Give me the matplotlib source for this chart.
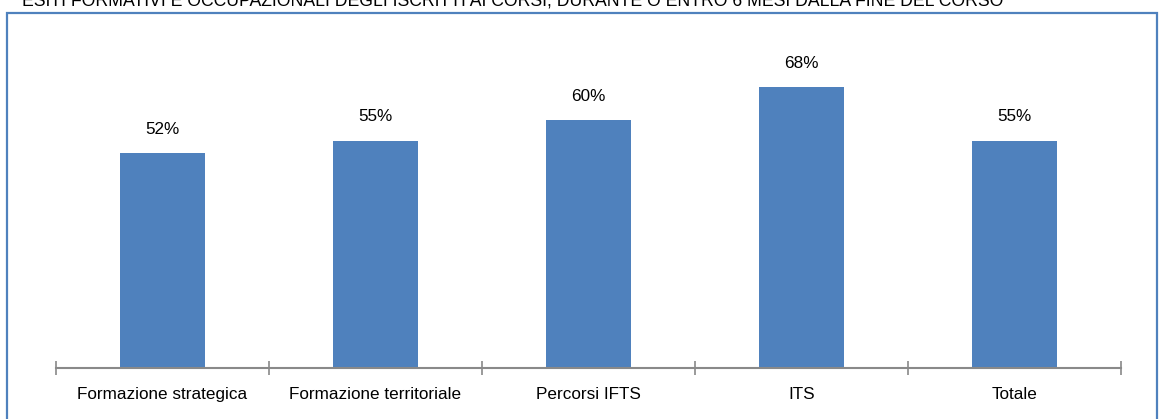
import matplotlib
matplotlib.use("Agg")
import matplotlib.pyplot as plt
from matplotlib.patches import Rectangle
import numpy as np

plt.rcParams['font.family'] = ['Liberation Sans', 'DejaVu Sans']

categories = ["Formazione strategica", "Formazione territoriale", "Percorsi IFTS", "ITS", "Totale"]
values = [52, 55, 60, 68, 55]
value_labels = ["52%", "55%", "60%", "68%", "55%"]
title = "ESITI FORMATIVI E OCCUPAZIONALI DEGLI ISCRITTI AI CORSI, DURANTE O ENTRO 6 MESI DALLA FINE DEL CORSO"

W, H = 1159, 419
fig = plt.figure(figsize=(W/100, H/100), dpi=100)
fig.patch.set_facecolor("white")

# border frame
fig.patches.append(Rectangle((7/W, -0.05), 1150/W, 1 - 13/H + 0.05, transform=fig.transFigure,
                             fill=False, edgecolor="#4F81BD", linewidth=1.6))
# title (clipped by the top edge, as in the reference)
fig.text(22/W, 1 - 5/H, title, fontsize=12.7, ha="left", va="baseline", color="black")

ax = fig.add_axes([56/W, (H-368)/H, (1121-56)/W, (368-40)/H])
x = np.arange(len(categories))
ax.bar(x, values, width=0.4, color="#4F81BD")
for xi, v, lab in zip(x, values, value_labels):
    ax.annotate(lab, (xi, v), xytext=(0, 12), textcoords="offset points",
                ha="center", va="bottom", fontsize=12.3)
ax.set_xlim(-0.5, len(categories) - 0.5)
ax.set_ylim(0, 79.5)
for s in ["top", "right", "left"]:
    ax.spines[s].set_visible(False)
ax.spines["bottom"].set_color("#898989")
ax.spines["bottom"].set_linewidth(1.5)
ax.set_yticks([])
ax.set_xticks(x)
ax.set_xticklabels(categories, fontsize=12.3)
ax.tick_params(axis="x", which="major", length=0, pad=14)
ax.set_xticks(np.arange(len(categories) + 1) - 0.5, minor=True)
ax.tick_params(axis="x", which="minor", direction="inout", length=10, width=1.2, color="#898989")
fig.savefig("out.png", dpi=100)
